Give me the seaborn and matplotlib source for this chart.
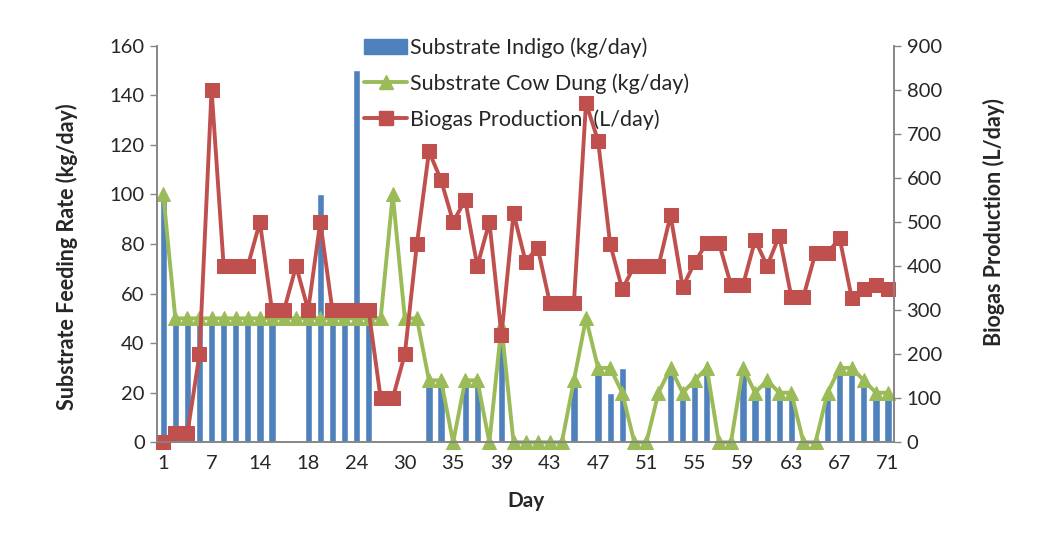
import matplotlib
matplotlib.use('Agg')
import matplotlib.pyplot as plt
import seaborn as sns
import pandas as pd
from matplotlib.lines import Line2D
from matplotlib.patches import Patch

# day categories (only every 4th one is labelled on the axis)
days = [1, 2, 4, 5, 7, 9, 11, 12, 14, 15, 16, 17, 18, 19, 21, 22, 24, 26, 27, 28,
        30, 31, 32, 34, 35, 36, 37, 38, 39, 40, 41, 42, 43, 44, 45, 46, 47, 48, 49, 50,
        51, 52, 53, 54, 55, 56, 57, 58, 59, 60, 61, 62, 63, 64, 65, 66, 67, 68, 69, 70, 71]

# substrate indigo (kg/day) - bars
indigo = [100, 50, 50, 50, 50, 50, 50, 50, 50, 50, 0, 0, 50, 100, 50, 50, 150, 50, 0, 0,
          0, 0, 25, 25, 0, 25, 25, 0, 45, 0, 0, 0, 0, 0, 25, 0, 30, 20, 30, 0,
          0, 0, 28, 20, 25, 28, 0, 0, 28, 20, 25, 20, 20, 0, 0, 20, 28, 28, 24, 20, 20]

# substrate cow dung (kg/day)
cow_dung = [100, 50, 50, 50, 50, 50, 50, 50, 50, 50, 50, 50, 50, 50, 50, 50, 50, 50, 50, 100,
            50, 50, 25, 25, 0, 25, 25, 0, 47, 0, 0, 0, 0, 0, 25, 50, 30, 30, 20, 0,
            0, 20, 30, 20, 25, 30, 0, 0, 30, 20, 25, 20, 20, 0, 0, 20, 30, 30, 25, 20, 20]

# biogas production (L/day)
biogas = [0, 20, 20, 200, 800, 400, 400, 400, 500, 300, 300, 400, 300, 500, 300, 300, 300, 300, 100, 100,
          200, 450, 660, 595, 500, 550, 400, 500, 243, 520, 410, 442, 317, 317, 317, 770, 684, 450, 347, 400,
          400, 400, 515, 352, 408, 453, 453, 357, 357, 459, 400, 469, 330, 330, 430, 430, 463, 327, 347, 357, 347]

blue = '#4F81BD'
green = '#9BBB59'
red = '#C0504D'
grey = '#868686'

df = pd.DataFrame({'Day': [str(d) for d in days], 'pos': range(len(days)),
                   'Indigo': indigo, 'CowDung': cow_dung, 'Biogas': biogas})

sns.set_style('white')
plt.rcParams['font.family'] = ['Lato', 'DejaVu Sans']

fig = plt.figure(figsize=(10.46, 5.47), dpi=100)
ax = fig.add_axes([0.1503, 0.1914, 0.8547 - 0.1503, 0.9165 - 0.1914])

sns.barplot(data=df, x='Day', y='Indigo', color=blue, width=0.6, saturation=1, ax=ax)
sns.lineplot(data=df, x='pos', y='CowDung', color=green, marker='^', markersize=10,
             markeredgecolor=green, linewidth=2.8, clip_on=False, ax=ax)

ax2 = ax.twinx()
sns.lineplot(data=df, x='pos', y='Biogas', color=red, marker='s', markersize=10,
             markeredgecolor=red, linewidth=2.8, clip_on=False, ax=ax2)

ax.set_xlim(-0.5, len(days) - 0.5)
ax.set_ylim(0, 160)
ax2.set_ylim(0, 900)
ax.set_yticks(range(0, 161, 20))
ax2.set_yticks(range(0, 901, 100))

ax.set_xticks(range(0, len(days), 4))
ax.set_xticklabels([days[i] for i in range(0, len(days), 4)])
ax.set_xticks([i - 0.5 for i in range(len(days) + 1)], minor=True)
ax.tick_params(axis='x', which='major', length=0, pad=9, labelsize=14.5)
ax.tick_params(axis='x', which='minor', length=5, color=grey, width=1, direction='out')
ax.tick_params(axis='y', length=5, color=grey, width=1, labelsize=14.5, pad=4, left=True)
ax2.tick_params(axis='y', length=5, color=grey, width=1, labelsize=14.5, pad=4, right=True)

for a in (ax, ax2):
    for s in a.spines.values():
        s.set_color(grey)
        s.set_linewidth(1.2)
    a.spines['top'].set_visible(False)

ax.set_xlabel('Day', fontsize=15, fontweight='bold', labelpad=14)
ax.set_ylabel('Substrate Feeding Rate (kg/day)', fontsize=15.5, fontweight='bold')
ax2.set_ylabel('Biogas Production (L/day)', fontsize=15.5, fontweight='bold')
ax.yaxis.set_label_coords(-0.107, 0.467)
ax2.yaxis.set_label_coords(1.121, 0.555)

handles = [Patch(color=blue),
           Line2D([], [], color=green, marker='^', markersize=10, linewidth=2.8),
           Line2D([], [], color=red, marker='s', markersize=10, linewidth=2.8)]
labels = ['Substrate Indigo (kg/day)', 'Substrate Cow Dung (kg/day)', 'Biogas Production  (L/day)']
fig.legend(handles, labels, loc='upper left', bbox_to_anchor=(0.338, 0.952), frameon=False,
           fontsize=15.5, handlelength=2.0, handletextpad=0.1, labelspacing=0.72, borderpad=0)

fig.savefig('out.png', dpi=100)
